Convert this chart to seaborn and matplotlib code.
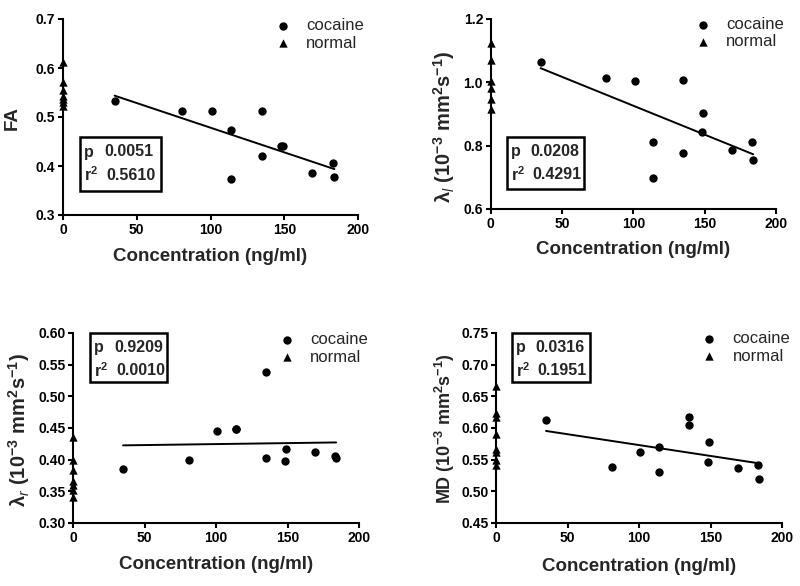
import matplotlib
matplotlib.use("Agg")
import matplotlib.pyplot as plt
import seaborn as sns
import pandas as pd
from matplotlib.patches import Rectangle
from matplotlib.ticker import FormatStrFormatter, MultipleLocator

# ---------------- data ----------------
conc_cocaine = [35, 81, 101, 114, 114, 135, 135, 148, 149, 169, 183, 184]

fa_cocaine = [0.533, 0.513, 0.513, 0.473, 0.373, 0.513, 0.420, 0.440, 0.440, 0.386, 0.407, 0.377]
fa_normal = [0.612, 0.572, 0.555, 0.543, 0.537, 0.530, 0.522]

ll_cocaine = [1.064, 1.014, 1.005, 0.813, 0.698, 1.006, 0.778, 0.843, 0.903, 0.787, 0.811, 0.756]
ll_normal = [1.125, 1.072, 1.003, 0.982, 0.948, 0.917]

lr_cocaine = [0.386, 0.400, 0.446, 0.449, 0.448, 0.539, 0.403, 0.398, 0.417, 0.412, 0.405, 0.403]
lr_normal = [0.436, 0.400, 0.384, 0.366, 0.360, 0.352, 0.341]

md_cocaine = [0.613, 0.538, 0.562, 0.570, 0.530, 0.617, 0.605, 0.546, 0.578, 0.537, 0.541, 0.520]
md_normal = [0.666, 0.623, 0.617, 0.591, 0.567, 0.562, 0.549, 0.541]

p_values = ["0.0051", "0.0208", "0.9209", "0.0316"]
r2_values = ["0.5610", "0.4291", "0.0010", "0.1951"]

x_ticks = [0, 50, 100, 150, 200]
x_label = "Concentration (ng/ml)"
y_labels = [
    "FA",
    r"$\lambda_{\mathit{l}}$ (10$^{-3}$ mm$^{2}$s$^{-1}$)",
    r"$\lambda_{\mathit{r}}$ (10$^{-3}$ mm$^{2}$s$^{-1}$)",
    r"MD (10$^{-3}$ mm$^{2}$s$^{-1}$)",
]
legend_labels = ["cocaine", "normal"]

# ---------------- style ----------------
sns.set_theme(style="ticks")
plt.rcParams.update({
    "font.family": ["Liberation Sans", "DejaVu Sans"],
    "mathtext.fontset": "custom",
    "mathtext.rm": "Liberation Sans:bold",
    "mathtext.it": "Liberation Sans:italic",
    "mathtext.bf": "Liberation Sans:bold",
    "mathtext.default": "bf",
    "axes.linewidth": 1.5,
    "axes.edgecolor": "black",
    "xtick.color": "black",
    "ytick.color": "black",
})

W, H = 800, 586
fig = plt.figure(figsize=(W / 100, H / 100), dpi=100)

panels = [
    dict(rect=(63, 19, 358, 215), coc=fa_cocaine, nor=fa_normal, ylim=(0.3, 0.7), step=0.1, fmt="%.1f",
         ylab_xy=(21, 118), ylab_fs=13.5, xlab_top=248, box=(80, 137, 81, 54), leg=(283, 26)),
    dict(rect=(490.7, 19, 776, 209), coc=ll_cocaine, nor=ll_normal, ylim=(0.6, 1.2), step=0.2, fmt="%.1f",
         ylab_xy=(457, 127), ylab_fs=14.5, xlab_top=241, box=(506.7, 136.7, 77.6, 52.6), leg=(703, 25)),
    dict(rect=(73, 333, 359, 523), coc=lr_cocaine, nor=lr_normal, ylim=(0.3, 0.6), step=0.05, fmt="%.2f",
         ylab_xy=(32, 430), ylab_fs=14.5, xlab_top=556, box=(90, 332.7, 76.7, 49), leg=(286.7, 340)),
    dict(rect=(496, 333, 782, 523), coc=md_cocaine, nor=md_normal, ylim=(0.45, 0.75), step=0.05, fmt="%.2f",
         ylab_xy=(457, 428.5), ylab_fs=13, xlab_top=558, box=(511.7, 332.7, 78.3, 49), leg=(709.3, 339.3)),
]

for i, P in enumerate(panels):
    l, t, r, b = P["rect"]
    ax = fig.add_axes([l / W, 1 - b / H, (r - l) / W, (b - t) / H])
    fx = lambda px: (px - l) / (r - l)
    fy = lambda py: (b - py) / (b - t)

    df_c = pd.DataFrame({"conc": conc_cocaine, "val": P["coc"]})
    df_n = pd.DataFrame({"conc": [0] * len(P["nor"]), "val": P["nor"]})

    sns.regplot(data=df_c, x="conc", y="val", ax=ax, ci=None, scatter=False,
                color="black", line_kws=dict(lw=1.4))
    sns.scatterplot(data=df_c, x="conc", y="val", ax=ax, marker="o", color="black",
                    s=36, edgecolor="black", linewidth=0, label=legend_labels[0], zorder=3)
    sns.scatterplot(data=df_n, x="conc", y="val", ax=ax, marker="^", color="black",
                    s=36, edgecolor="black", linewidth=0, label=legend_labels[1],
                    clip_on=False, zorder=4)

    ax.set_xlim(0, 200)
    ax.set_xticks(x_ticks)
    ax.yaxis.set_major_locator(MultipleLocator(P["step"]))
    ax.yaxis.set_major_formatter(FormatStrFormatter(P["fmt"]))
    ax.set_ylim(*P["ylim"])
    sns.despine(ax=ax)
    ax.tick_params(direction="out", length=3.5, width=1.5, pad=2, labelsize=10)
    for lab in ax.get_xticklabels() + ax.get_yticklabels():
        lab.set_fontweight("bold")

    ax.set_xlabel(x_label, fontsize=13.5, fontweight="bold")
    ax.xaxis.set_label_coords(0.5, fy(P["xlab_top"]))
    ax.set_ylabel(y_labels[i], fontsize=P["ylab_fs"], fontweight="bold")
    ax.yaxis.set_label_coords(fx(P["ylab_xy"][0]), fy(P["ylab_xy"][1]))

    # stats box
    bx, by, bw, bh = P["box"]
    ax.add_patch(Rectangle((fx(bx), fy(by + bh)), bw / (r - l), bh / (b - t),
                           transform=ax.transAxes, fill=False, lw=1.8,
                           edgecolor="black", clip_on=False, zorder=5))
    ax.text(fx(bx + 4), fy(by + 15), "p", transform=ax.transAxes, fontsize=11.5,
            fontweight="bold", va="center", ha="left")
    ax.text(fx(bx + 24), fy(by + 15), p_values[i], transform=ax.transAxes, fontsize=11.5,
            fontweight="bold", va="center", ha="left")
    ax.text(fx(bx + 4), fy(by + 38), r"r$^{2}$", transform=ax.transAxes, fontsize=11.5,
            fontweight="bold", va="center", ha="left")
    ax.text(fx(bx + 26), fy(by + 38), r2_values[i], transform=ax.transAxes, fontsize=11.5,
            fontweight="bold", va="center", ha="left")

    # legend
    mx, my = P["leg"]
    fs = 12
    fs_px = fs * 100 / 72
    h, labs = ax.get_legend_handles_labels()
    ax.legend(h, labs, loc="upper left",
              bbox_to_anchor=(fx(mx - 0.5 * fs_px), fy(my - 8.0)),
              frameon=False, borderpad=0, borderaxespad=0, handlelength=1.0,
              handletextpad=0.9, labelspacing=0.15, fontsize=fs)

fig.savefig("out.png", dpi=100, facecolor="white")
